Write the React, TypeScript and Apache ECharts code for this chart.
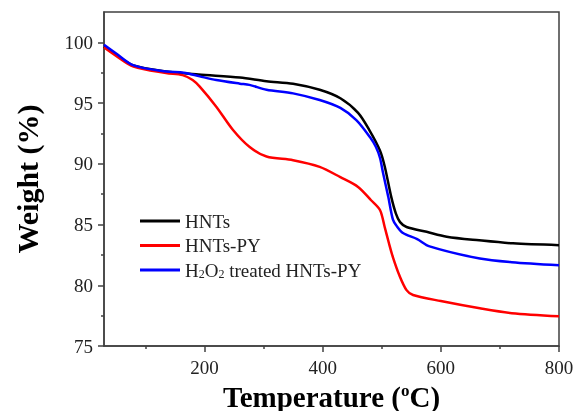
import React, { useEffect, useRef } from "react";
import * as echarts from "echarts";

const seriesNames = ["HNTs", "HNTs-PY", "H2O2 treated HNTs-PY"];

const hntsTemp = [30, 50, 80, 135, 190, 260, 305, 350, 395, 430, 460, 480, 497, 505, 516, 524, 531, 542, 576, 610, 665, 722, 800];
const hntsWeight = [99.65, 99.0, 98.1, 97.6, 97.35, 97.1, 96.8, 96.6, 96.1, 95.4, 94.2, 92.7, 91.1, 89.8, 87.3, 85.9, 85.2, 84.8, 84.4, 84.0, 83.7, 83.45, 83.3];

const pyTemp = [30, 50, 80, 135, 163, 180, 192, 220, 248, 276, 305, 350, 395, 430, 460, 482, 497, 505, 512, 519, 530, 542, 553, 600, 666, 720, 800];
const pyWeight = [99.6, 98.9, 98.0, 97.47, 97.3, 96.9, 96.35, 94.7, 92.8, 91.4, 90.6, 90.3, 89.75, 88.9, 88.1, 87.0, 86.2, 84.8, 83.5, 82.3, 80.8, 79.6, 79.2, 78.7, 78.1, 77.7, 77.45];

const h2o2Temp = [30, 50, 80, 135, 165, 192, 220, 260, 276, 305, 350, 395, 430, 457, 480, 490, 497, 502, 511, 519, 525, 536, 560, 581, 666, 720, 800];
const h2o2Weight = [99.8, 99.1, 98.1, 97.6, 97.5, 97.2, 96.9, 96.6, 96.5, 96.1, 95.8, 95.25, 94.6, 93.6, 92.2, 91.4, 90.5, 89.3, 87.3, 85.4, 84.9, 84.3, 83.8, 83.2, 82.2, 81.9, 81.65];

const xMajorTicks = [200, 400, 600, 800];
const xMinorTicks = [100, 300, 500, 700];
const yMajorTicks = [75, 80, 85, 90, 95, 100];
const yMinorTicks = [77.5, 82.5, 87.5, 92.5, 97.5];

const FONT = "Liberation Serif";
const AXIS = "#404040";

function pairs(t: number[], v: number[]) {
  return t.map((x, i) => [x, v[i]]);
}

export default function App() {
  const ref = useRef<HTMLDivElement>(null);
  useEffect(() => {
    if (!ref.current) return;
    const chart = echarts.init(ref.current, undefined, { renderer: "svg" });
    const xBase = {
      type: "value",
      min: 30,
      max: 800,
      position: "bottom",
      splitLine: { show: false },
    };
    const yBase = {
      type: "value",
      min: 75,
      max: 102.5,
      position: "left",
      splitLine: { show: false },
    };
    chart.setOption({
      animation: false,
      grid: {
        left: 104,
        right: 15,
        top: 12,
        bottom: 65,
        containLabel: false,
        outerBoundsMode: "none",
        show: true,
        borderColor: AXIS,
        borderWidth: 1.5,
      },
      xAxis: [
        {
          ...xBase,
          name: "{a|Temperature (}{s|o}{a|C)}",
          nameLocation: "middle",
          nameGap: 36,
          nameTextStyle: {
            rich: {
              a: { fontFamily: FONT, fontWeight: "bold", fontSize: 29, color: "#000" },
              s: { fontFamily: FONT, fontWeight: "bold", fontSize: 17, color: "#000", verticalAlign: "top", padding: [0, 0, 12, 0] },
            },
          },
          axisLine: { show: true, lineStyle: { color: AXIS, width: 1.5 } },
          axisTick: { show: true, inside: false, length: 6, customValues: xMajorTicks, lineStyle: { color: AXIS, width: 1.5 } },
          axisLabel: { customValues: xMajorTicks, margin: 12, fontFamily: FONT, fontSize: 19, color: "#222" },
        },
        {
          ...xBase,
          offset: 0,
          axisLine: { show: false },
          axisTick: { show: true, inside: false, length: 3, customValues: xMinorTicks, lineStyle: { color: AXIS, width: 1.5 } },
          axisLabel: { show: false },
        },
      ],
      yAxis: [
        {
          ...yBase,
          name: "Weight (%)",
          nameLocation: "middle",
          nameGap: 62,
          nameTextStyle: { fontFamily: FONT, fontWeight: "bold", fontSize: 30, color: "#000" },
          axisLine: { show: true, lineStyle: { color: AXIS, width: 1.5 } },
          axisTick: { show: true, inside: false, length: 6, customValues: yMajorTicks, lineStyle: { color: AXIS, width: 1.5 } },
          axisLabel: { customValues: yMajorTicks, margin: 11, fontFamily: FONT, fontSize: 19, color: "#222" },
        },
        {
          ...yBase,
          offset: 0,
          axisLine: { show: false },
          axisTick: { show: true, inside: false, length: 3, customValues: yMinorTicks, lineStyle: { color: AXIS, width: 1.5 } },
          axisLabel: { show: false },
        },
      ],
      legend: {
        orient: "vertical",
        left: 135,
        top: 206,
        icon: "rect",
        itemWidth: 40,
        itemHeight: 3,
        itemGap: 4.5,
        data: seriesNames,
        textStyle: {
          fontFamily: FONT,
          fontSize: 19,
          color: "#222",
          lineHeight: 20,
          rich: {
            n: { fontFamily: FONT, fontSize: 19, color: "#222", lineHeight: 20 },
            sub: { fontFamily: FONT, fontSize: 12, color: "#222", verticalAlign: "bottom", lineHeight: 20, padding: [8, 0, 0, 0] },
          },
        },
        formatter: (name: string) =>
          name === seriesNames[2] ? "{n|H}{sub|2}{n|O}{sub|2}{n| treated HNTs-PY}" : name,
      },
      series: [
        { name: seriesNames[0], type: "line", data: pairs(hntsTemp, hntsWeight), color: "#000000" },
        { name: seriesNames[1], type: "line", data: pairs(pyTemp, pyWeight), color: "#ff0000" },
        { name: seriesNames[2], type: "line", data: pairs(h2o2Temp, h2o2Weight), color: "#0000ff" },
      ].map((s) => ({
        ...s,
        xAxisIndex: 0,
        yAxisIndex: 0,
        symbol: "none",
        smooth: 0.3,
        lineStyle: { width: 2.5, color: s.color },
      })),
    });
    return () => chart.dispose();
  }, []);
  return <div ref={ref} style={{ position: "fixed", left: 0, top: 0, width: 574, height: 411 }} />;
}
